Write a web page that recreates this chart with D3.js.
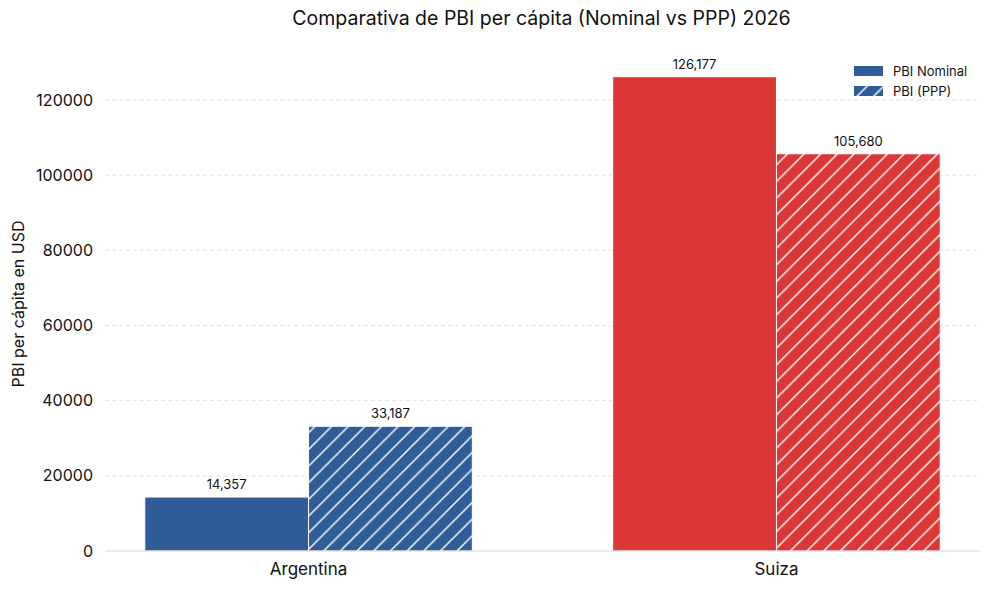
<!DOCTYPE html>
<html>
<head>
<meta charset="utf-8">
<script src="https://cdn.jsdelivr.net/npm/d3@7"></script>
<style>
  body { margin: 0; background: #fff; }
  svg text { font-family: "Inter", "Lato", sans-serif; fill: #111; }
</style>
</head>
<body>
<div id="chart"></div>
<script>
// data
const countries = ["Argentina", "Suiza"];
const seriesNames = ["PBI Nominal", "PBI (PPP)"];
const nominal = [14357, 126177];
const ppp = [33187, 105680];
const countryColors = ["#305d99", "#dc3737"];
const yTicks = [0, 20000, 40000, 60000, 80000, 100000, 120000];

const W = 989, H = 589;
const margins = {top: 53, right: 9, bottom: 38, left: 105};
const width = W - margins.left - margins.right;
const height = H - margins.top - margins.bottom;

const svg = d3.select("#chart").append("svg")
    .attr("width", W)
    .attr("height", H);

const defs = svg.append("defs");
//hatch patterns, one per colour
const hatchStep = 100 / 6;
countryColors.forEach((c, i) => {
    const p = defs.append("pattern")
        .attr("id", "hatch" + i)
        .attr("patternUnits", "userSpaceOnUse")
        .attr("width", hatchStep)
        .attr("height", hatchStep);
    p.append("rect").attr("width", hatchStep).attr("height", hatchStep).attr("fill", c);
    p.append("path")
        .attr("d", `M0,${hatchStep} L${hatchStep},0 M${-hatchStep/2},${hatchStep/2} L${hatchStep/2},${-hatchStep/2} M${hatchStep/2},${hatchStep*1.5} L${hatchStep*1.5},${hatchStep/2}`)
        .attr("stroke", "#fff")
        .attr("stroke-width", 1.4);
});

const g = svg.append("g")
    .attr("transform", `translate(${margins.left}, ${margins.top})`);

// x scale in "category units" like matplotlib: centers at 0 and 1, bar width 0.35
const barW = 0.35;
const x = d3.scaleLinear()
    .domain([-0.435, 1.435])
    .range([0, width]);

const y = d3.scaleLinear()
    .domain([0, 132486])
    .range([height, 0]);

//grid
g.append("g")
    .selectAll("line")
    .data(yTicks.slice(1))
    .join("line")
        .attr("x1", 0)
        .attr("x2", width)
        .attr("y1", d => y(d))
        .attr("y2", d => y(d))
        .attr("stroke", "#d9d9d9")
        .attr("stroke-width", 0.8)
        .attr("stroke-dasharray", "4,3");

//y axis labels
const yAxis = g.append("g")
    .call(d3.axisLeft(y).tickValues(yTicks).tickSize(0).tickPadding(12).tickFormat(d3.format("d")));
yAxis.select(".domain").remove();
yAxis.selectAll("text")
    .style("font-size", "16px")
    .style("font-family", "Inter, sans-serif")
    .attr("fill", "#111");

//bars
const bars = [];
countries.forEach((c, i) => {
    bars.push({country: c, i: i, series: 0, value: nominal[i], x0: i - barW});
    bars.push({country: c, i: i, series: 1, value: ppp[i], x0: i});
});

g.append("g")
    .selectAll("rect")
    .data(bars)
    .join("rect")
        .attr("x", d => x(d.x0))
        .attr("y", d => y(d.value))
        .attr("width", x(barW) - x(0))
        .attr("height", d => y(0) - y(d.value))
        .attr("fill", d => d.series === 0 ? countryColors[d.i] : `url(#hatch${d.i})`)
        .attr("stroke", "#fff")
        .attr("stroke-width", 1);

//value labels
g.append("g")
    .selectAll("text")
    .data(bars)
    .join("text")
        .attr("x", d => x(d.x0 + barW / 2))
        .attr("y", d => y(d.value) - 8)
        .attr("text-anchor", "middle")
        .style("font-size", "13px")
        .text(d => d3.format(",")(d.value));

//bottom spine
g.append("line")
    .attr("x1", 0).attr("x2", width)
    .attr("y1", height).attr("y2", height)
    .attr("stroke", "#d6d6d6")
    .attr("stroke-width", 1);

//x labels
g.append("g")
    .selectAll("text")
    .data(countries)
    .join("text")
        .attr("x", (d, i) => x(i))
        .attr("y", height + 24)
        .attr("text-anchor", "middle")
        .style("font-size", "17px")
        .text(d => d);

//y label
svg.append("text")
    .attr("transform", `translate(24, ${margins.top + height / 2 + 2}) rotate(-90)`)
    .attr("text-anchor", "middle")
    .style("font-size", "16px")
    .text("PBI per cápita en USD");

//title
svg.append("text")
    .attr("x", margins.left + width / 2 - 1)
    .attr("y", 25)
    .attr("text-anchor", "middle")
    .style("font-size", "19.5px")
    .text("Comparativa de PBI per cápita (Nominal vs PPP) 2026");

//legend
const legend = svg.append("g")
    .attr("transform", "translate(854, 66)");
seriesNames.forEach((s, k) => {
    legend.append("rect")
        .attr("x", 0)
        .attr("y", k * 20)
        .attr("width", 29)
        .attr("height", 10)
        .attr("fill", k === 0 ? countryColors[0] : "url(#hatch0)");
    legend.append("text")
        .attr("x", 39)
        .attr("y", k * 20 + 10)
        .style("font-size", "13px")
        .text(s);
});
</script>
</body>
</html>
